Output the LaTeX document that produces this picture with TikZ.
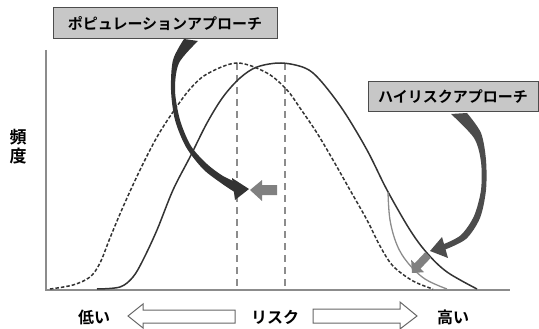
\documentclass[tikz,border=0pt]{standalone}
\usepackage{fontspec}
\setmainfont{Noto Sans CJK JP}[BoldFont={Noto Sans CJK JP Bold}]
\begin{document}
\begin{tikzpicture}[x=1pt,y=-1pt,
  curve/.style={draw=black!80, line width=1.5pt},
  dcurve/.style={draw=black!80, line width=1.5pt, dash pattern=on 3.5pt off 2pt},
  vline/.style={draw=black!45, line width=2pt, dash pattern=on 7pt off 5pt},
  axis/.style={draw=black!45, line width=1.8pt},
  label/.style={draw=black!70, line width=1pt, fill=black!22, inner sep=0pt, font=\bfseries\fontsize{15}{15}\selectfont},
  txt/.style={font=\bfseries\fontsize{16}{16}\selectfont, inner sep=0pt},
  hollow/.style={draw=black!60, line width=1pt, fill=white}]
\useasboundingbox (0,0) rectangle (539,329);
% axes
\coordinate (o) at (46,290);
\coordinate (ytop) at (46,50);
\coordinate (xend) at (510,290);
\draw[axis] (ytop) -- (o) -- (xend);
% dashed verticals
\coordinate (p1) at (237,63);
\coordinate (p1b) at (237,290);
\coordinate (p2) at (285,63);
\coordinate (p2b) at (285,290);
\draw[vline] (p1) -- (p1b);
\draw[vline] (p2) -- (p2b);
% dashed curve
\draw[dcurve] plot[smooth, tension=0.55] coordinates {(50,289) (73,285) (90,277) (100,263) (110,238) (123,207) (140,170) (157,137) (173,112) (190,89) (207,74) (237,63) (267,73) (287,90) (300,108) (317,133) (333,160) (350,190) (367,220) (380,246) (393,266) (413,281) (433,289)};
% solid curve
\draw[curve] plot[smooth, tension=0.55] coordinates {(97,289) (120,287) (133,277) (143,260) (157,230) (173,190) (190,157) (207,123) (223,97) (240,78) (257,67) (281,63) (305,68) (320,80) (343,110) (367,150) (387,190) (410,230) (427,253) (447,272) (477,289)};
% grey cut curve
\draw[draw=black!45, line width=1.3pt] plot[smooth, tension=0.6] coordinates {(388,192) (390,220) (397,245) (408,263) (425,279) (447,289)};
% population arrow
\fill[black!80] plot[smooth] coordinates {(184,39) (173,60) (171,90) (175,120) (186,147) (203,169) (221,183) (236,193)}
  -- plot[smooth] coordinates {(238,183) (223,176) (207,164) (191,146) (180,120) (175,90) (179,63) (198,41)} -- cycle;
\fill[black!80] (232,178) -- (249,189) -- (235,200) -- cycle;
% population grey block arrow
\fill[black!50] (250,190) -- (262,180) -- (262,185) -- (277,185) -- (277,195) -- (262,195) -- (262,201) -- cycle;
% high risk arrow
\fill[black!70] plot[smooth] coordinates {(467,113) (481,133) (486,160) (486,190) (480,218) (466,239) (444,250)}
  -- plot[smooth] coordinates {(444,244) (461,235) (474,216) (481,190) (481,162) (474,138) (451,114)} -- cycle;
\fill[black!70] (442,237) -- (430,251) -- (448,258) -- cycle;
% high risk grey block arrow
\fill[black!50] (425.1,252.3) -- (414.7,263.3) -- (411.1,259.8) -- (412,273) -- (424.1,272.2) -- (420.5,268.7) -- (430.9,257.7) -- cycle;
% labels
\node[label, minimum width=224pt, minimum height=31pt] (pop) at (165,23.5) {ポピュレーションアプローチ};
\node[label, minimum width=170pt, minimum height=30pt] (hr) at (453,97) {ハイリスクアプローチ};
\node[font=\bfseries\fontsize{17}{17}\selectfont, inner sep=0pt, align=center] (freq) at (18,147) {頻\\[2pt]度};
% bottom
\node[txt] (low) at (94,317) {低い};
\node[txt] (risk) at (275,317) {リスク};
\node[txt] (high) at (453,317) {高い};
\draw[hollow] (128,316) -- (143,304) -- (143,310) -- (235,310) -- (235,323) -- (143,323) -- (143,328) -- cycle;
\draw[hollow] (417,316) -- (400,302) -- (400,309) -- (313,309) -- (313,323) -- (400,323) -- (400,329) -- cycle;
\end{tikzpicture}
\end{document}
